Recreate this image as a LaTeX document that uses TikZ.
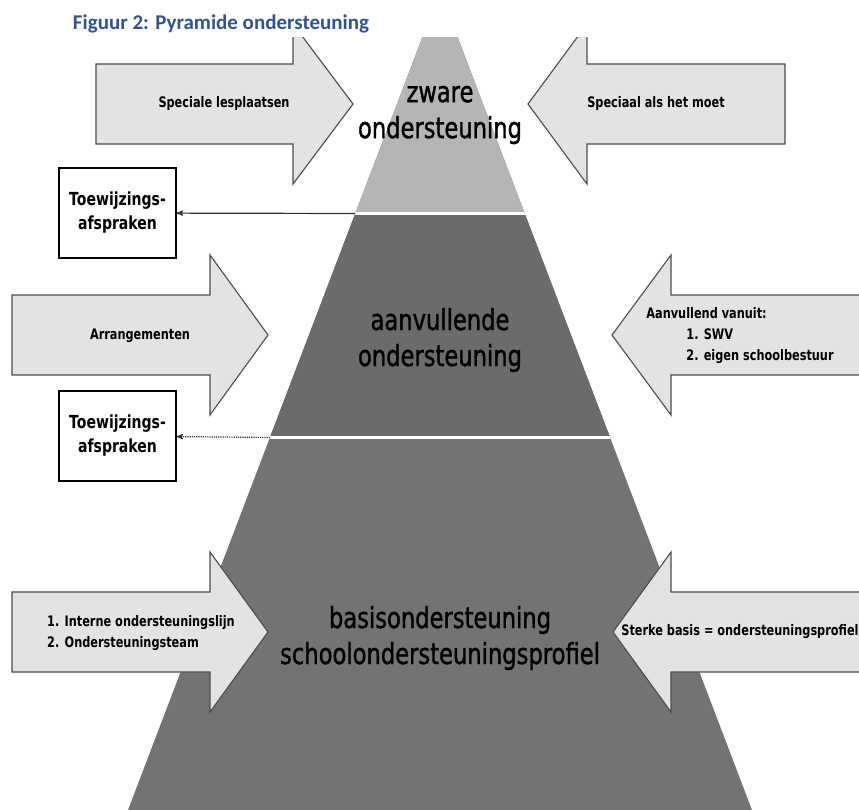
\documentclass[tikz,border=0pt]{standalone}
\usepackage{fontspec}
\setmainfont[FakeStretch=0.78]{DejaVu Sans}
\newfontfamily\pyrfont[FakeStretch=0.78,FakeBold=1.2]{DejaVu Sans}
\newfontfamily\captionfont{Carlito}
\usetikzlibrary{shapes,arrows}
\usetikzlibrary{calc,positioning}
\definecolor{captionblue}{HTML}{2F5496}
\definecolor{pyrtop}{gray}{0.71}
\definecolor{pyrmid}{gray}{0.42}
\definecolor{pyrbase}{gray}{0.45}
\definecolor{arrowfill}{gray}{0.89}
\definecolor{arrowline}{gray}{0.3}
\tikzstyle{blockarrow} = [fill=arrowfill,draw=arrowline,line width=1.1pt,line join=miter]
\tikzstyle{arrowtext} = [font=\fontsize{14.5}{21}\selectfont\bfseries,align=center]
\tikzstyle{pyrtext} = [font=\pyrfont\fontsize{29}{36}\selectfont,align=center]
\tikzstyle{tbox} = [rectangle,draw=black,line width=1.3pt,fill=white,minimum width=117pt,minimum height=90pt,align=center,font=\fontsize{18}{24}\selectfont\bfseries]
\tikzstyle{conn} = [->,>=stealth',draw=black!80,line width=1.2pt]
\begin{document}
\begin{tikzpicture}[x=1pt,y=-1pt]
\useasboundingbox (0,0) rectangle (859,810);

\node (title) at (221,24) {\captionfont\bfseries\color{captionblue}\fontsize{21}{24}\selectfont Figuur 2: Pyramide ondersteuning};

\begin{scope}
\clip (0,38) rectangle (859,810);

% pyramid
\coordinate (apex) at (440,-9);
\coordinate (bl) at (128,810);
\coordinate (br) at (752,810);
\fill[pyrbase] (apex) -- (bl) -- (br) -- cycle;
\begin{scope}
  \clip (apex) -- (bl) -- (br) -- cycle;
  \fill[pyrtop] (0,0) rectangle (859,213.5);
  \fill[pyrmid] (0,213.5) rectangle (859,437.5);
  \draw[white,line width=3pt] (0,213.5) -- (859,213.5);
  \draw[white,line width=3pt] (0,437.5) -- (859,437.5);
\end{scope}
\coordinate (sep1) at (355,213.5);
\coordinate (sep2) at (270,437.5);

\node (zware) [pyrtext] at (440,115) {zware\\ondersteuning};
\node (aanv) [pyrtext] at (440,340) {aanvullende\\ondersteuning};
\node (basis) [pyrtext] at (440,638) {basisondersteuning\\schoolondersteuningsprofiel};

% block arrows
\foreach \xa/\xb/\xt/\yc in {96/293/353/104, 12/210/268/335, 12/210/268/632, 785/587/528/104, 870/671/612/335, 870/671/613/632}
{
  \draw[blockarrow] (\xa,\yc-40) -- (\xb,\yc-40) -- (\xb,\yc-80) -- (\xt,\yc) -- (\xb,\yc+80) -- (\xb,\yc+40) -- (\xa,\yc+40) -- cycle;
}

\node (special) [arrowtext] at (224,104) {Speciale lesplaatsen};
\node (alsmoet) [arrowtext] at (656,104) {Speciaal als het moet};
\node (arrang) [arrowtext] at (140,336) {Arrangementen};
\node (vanuit) [arrowtext,align=left] at (740,336) {Aanvullend vanuit:\\\hspace*{40pt}1. SWV\\\hspace*{40pt}2. eigen schoolbestuur};
\node (intern) [arrowtext,align=left] at (141,633) {1. Interne ondersteuningslijn\\2. Ondersteuningsteam};
\node (sterk) [arrowtext] at (740,632) {Sterke basis = ondersteuningsprofiel};
\end{scope}

% toewijzing
\node (box1) [tbox] at (117.5,213) {Toewijzings-\\afspraken};
\node (box2) [tbox] at (117.5,436) {Toewijzings-\\afspraken};

\draw[conn] (sep1) -- (box1);
\draw[conn,densely dotted] (sep2) -- (box2);

\end{tikzpicture}
\end{document}
